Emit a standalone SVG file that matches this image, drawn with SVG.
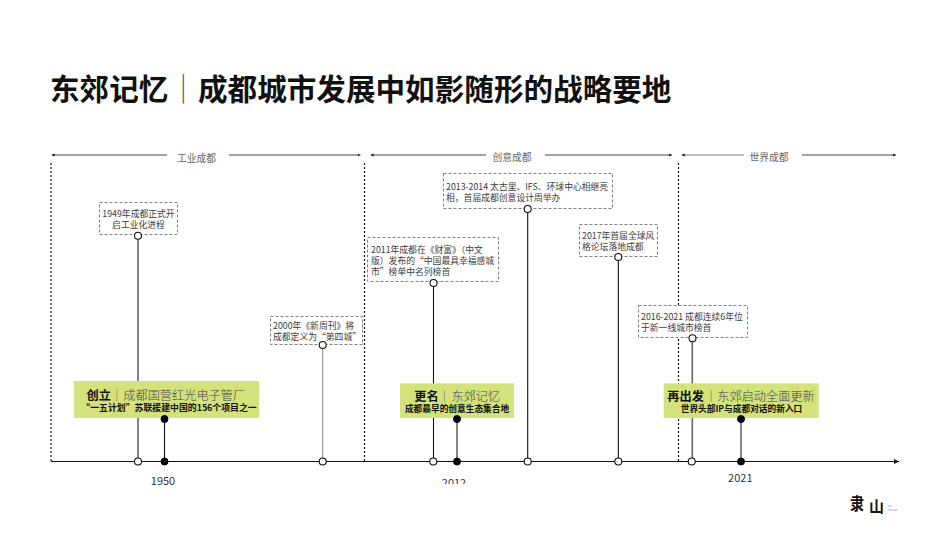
<svg xmlns="http://www.w3.org/2000/svg" width="950" height="535" viewBox="0 0 950 535">
<style>
text{font-family:"Noto Sans CJK SC","Noto Sans",sans-serif;fill:#2b2b2b}
.title{font-size:29.6px;font-weight:700;fill:#111}
.bar{font-weight:300;fill:#555}
.sec{font-size:9.8px;fill:#666;text-anchor:middle}
.note{font-size:8.8px;fill:#3c3c3c}
.mid{text-anchor:middle}
.box{fill:#fff;stroke:#808080;stroke-width:1;stroke-dasharray:3 2}
.green{fill:#d3e27a}
.h{font-size:12.2px;fill:#444;font-weight:300}
.hb{font-weight:700;fill:#111}
.hs{fill:#555;font-weight:300}
.sub{font-size:8.7px;font-weight:700;fill:#111;text-anchor:middle}
.year{font-size:11px;fill:#333;text-anchor:middle}
.span2{stroke:#444;stroke-width:1;fill:none}
.div{stroke:#111;stroke-width:1.200;stroke-dasharray:2 2;fill:none}
.stem{stroke:#111;stroke-width:1.100;fill:none}
.g1{stroke:#666;stroke-width:1.600}
.g2{stroke:#999;stroke-width:1.200}
.o{fill:#fff;stroke:#111;stroke-width:1.100}
.k{fill:#000;stroke:#000}
</style>
<defs>
<marker id="ar" markerUnits="userSpaceOnUse" markerWidth="6" markerHeight="6" refX="3" refY="3" orient="auto"><path d="M0 1.500L3 3L0 4.500Z" fill="#222"/></marker>
<marker id="al" markerUnits="userSpaceOnUse" markerWidth="6" markerHeight="6" refX="0" refY="3" orient="auto"><path d="M3 1.500L0 3L3 4.500Z" fill="#222"/></marker>
<marker id="axar" markerUnits="userSpaceOnUse" markerWidth="8" markerHeight="8" refX="5" refY="4" orient="auto"><path d="M0 1.500L5 4L0 6.500Z" fill="#111"/></marker>
<clipPath id="c2012"><rect x="430" y="470" width="50" height="14"/></clipPath>
</defs>
<rect width="950" height="535" fill="#fff"/>
<g id="title">
<text class="title" x="50" y="100">东郊记忆<tspan class="bar">｜</tspan>成都城市发展中如影随形的战略要地</text>
</g>
<g id="connectors">
<path class="div" d="M51 163V461M364.500 163V461M678.500 163V461"/>
<path class="span2" marker-start="url(#al)" d="M51.700 155H167"/><path class="span2" marker-end="url(#ar)" d="M229 155H360.500"/>
<path class="span2" marker-start="url(#al)" d="M370.700 155H486"/><path class="span2" marker-end="url(#ar)" d="M545 155H672"/>
<path class="span2" style="stroke:#777" marker-start="url(#al)" d="M681.700 155H744"/><path class="span2" marker-end="url(#ar)" d="M802 155H896"/>
<path d="M51 461.500H899" stroke="#111" stroke-width="1.200" marker-end="url(#axar)" fill="none"/>
<path class="stem g1" d="M138 236V461M457 419V461M741 419V461M692.300 338V461"/>
<path class="stem g2" d="M322.700 345V461"/>
<path class="stem" d="M164.500 419V461M433.500 283V461M527.700 209V461M618.300 257V461"/>
</g>
<g id="sec1"><text class="sec" x="196.500" y="161.500">工业成都</text></g>
<g id="sec2"><text class="sec" x="512" y="160.500">创意成都</text></g>
<g id="sec3"><text class="sec" x="769" y="160.500">世界成都</text></g>
<g id="n1949"><rect class="box" x="99.500" y="202.500" width="78" height="32"/><text class="note mid" x="138.500" y="216.500">1949年成都正式开</text><text class="note mid" x="138.500" y="228">启工业化进程</text><circle class="o" cx="138" cy="235.700" r="3.500"/></g>
<g id="n2000"><rect class="box" x="270.500" y="316.500" width="92" height="28"/><text class="note" x="273" y="329.200">2000年《新周刊》将</text><text class="note" x="273" y="340">成都定义为“第四城”</text><circle class="o" cx="322.700" cy="345" r="3.500"/></g>
<g id="n2011"><rect class="box" x="367.500" y="237.500" width="131" height="44"/><text class="note" x="371" y="252.500">2011年成都在《财富》（中文</text><text class="note" x="371" y="263.500">版）发布的“中国最具幸福感城</text><text class="note" x="371" y="274.500">市”榜单中名列榜首</text><circle class="o" cx="433.500" cy="283" r="3.500"/></g>
<g id="n2013"><rect class="box" x="443.500" y="173.500" width="169" height="35"/><text class="note" x="446" y="190">2013-2014 太古里、IFS、环球中心相继亮</text><text class="note" x="446" y="200.500">相，首届成都创意设计周举办</text><circle class="o" cx="527.700" cy="209" r="3.500"/></g>
<g id="n2017"><rect class="box" x="579.500" y="224.500" width="78" height="32"/><text class="note" x="582" y="239">2017年首届全球风</text><text class="note" x="582" y="250">格论坛落地成都</text><circle class="o" cx="618.300" cy="257" r="3.500"/></g>
<g id="n2016"><rect class="box" x="638.500" y="305.500" width="109" height="32"/><text class="note" x="641" y="320">2016-2021 成都连续6年位</text><text class="note" x="641" y="331">于新一线城市榜首</text><circle class="o" cx="692.500" cy="338.300" r="3.500"/></g>
<g id="a1950"><rect class="green" x="74" y="381" width="185" height="37"/><text class="h" x="86.500" y="399.500"><tspan class="hb">创立</tspan><tspan class="hs" x="110.800">｜</tspan><tspan x="123.300">成都国营红光电子管厂</tspan></text><text class="sub" style="font-size:8.900px" x="169" y="410.500">“一五计划”苏联援建中国的156个项目之一</text><circle class="k" cx="164.500" cy="419" r="3.500"/></g>
<g id="a2012"><rect class="green" x="400" y="383.300" width="114" height="34.700"/><text class="h" x="414.300" y="400.500"><tspan class="hb">更名</tspan><tspan class="hs" x="438.200">｜</tspan><tspan x="451.500">东郊记忆</tspan></text><text class="sub" x="457" y="411.500">成都最早的创意生态集合地</text><circle class="k" cx="457" cy="419" r="3.500"/></g>
<g id="a2021"><rect class="green" x="663.700" y="383.300" width="155" height="34.700"/><text class="h" x="667.300" y="401"><tspan class="hb">再出发</tspan><tspan class="hs" x="704.900">｜</tspan><tspan x="717.300">东郊启动全面更新</tspan></text><text class="sub" x="741.500" y="412">世界头部IP与成都对话的新入口</text><circle class="k" cx="741" cy="419" r="3.500"/></g>
<g id="axis-dots">
<circle class="o" cx="138" cy="461.500" r="3.500"/><circle class="k" cx="164.500" cy="461.500" r="3.500"/><circle class="o" cx="322.700" cy="461.500" r="3.500"/><circle class="o" cx="433.300" cy="461.500" r="3.500"/><circle class="k" cx="457" cy="461.500" r="3.500"/><circle class="o" cx="527.700" cy="461.500" r="3.500"/><circle class="o" cx="618.300" cy="461.500" r="3.500"/><circle class="o" cx="691.700" cy="461.500" r="3.500"/><circle class="k" cx="741" cy="461.500" r="3.500"/>
</g>
<g id="years">
<text class="year" x="163" y="484.700">1950</text>
<text class="year" x="454" y="486.500" clip-path="url(#c2012)">2012</text>
<text class="year" x="740.300" y="482.300">2021</text>
</g>
<g id="logo">
<text transform="translate(850 510) scale(1 1.250)" font-size="14" font-weight="700" style="fill:#111">隶</text>
<text x="869" y="512" font-size="15" font-weight="700" style="fill:#111">山</text>
<text x="888" y="507" font-size="2.500" style="fill:#888">RJL</text>
<text x="888" y="510.500" font-size="2.500" style="fill:#888">HE SJST</text>
</g>
</svg>
